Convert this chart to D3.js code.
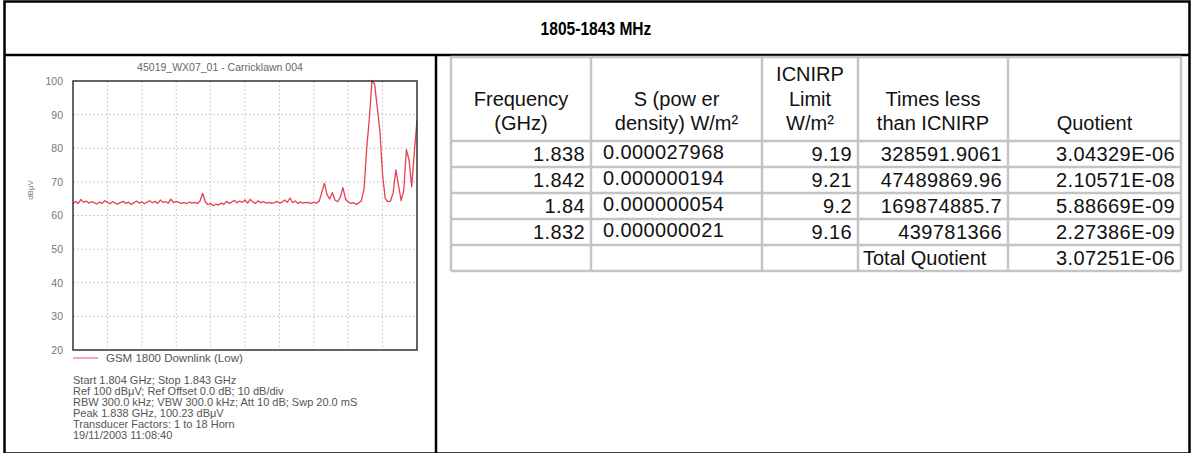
<!DOCTYPE html>
<html><head><meta charset="utf-8">
<script src="https://cdn.jsdelivr.net/npm/d3@7"></script>
<style>body{margin:0;background:#fff}svg{display:block}</style>
</head><body>
<svg id="c" width="1192" height="453"></svg>
<script>
// ---------- data ----------
const pageTitle = "1805-1843 MHz";
const chartTitle = "45019_WX07_01 - Carricklawn 004";
const seriesName = "GSM 1800 Downlink (Low)";
const yLabel = "dBμV";
const startGHz = 1.804, stopGHz = 1.843, stepGHz = 0.0003;
const yTicks = [20, 30, 40, 50, 60, 70, 80, 90, 100];
const xDivisions = [0,1,2,3,4,5,6,7,8,9,10];
// measured level (dBuV) per sweep point, 0.3 MHz apart
const levels = [
 63.5,64.2,63.6,64.8,63.9,64.3,63.7,64.1,63.8,63.4,
 64.0,63.6,64.4,63.9,63.5,64.1,63.7,63.4,63.9,64.2,
 63.6,64.0,63.3,63.8,64.3,63.7,64.1,63.5,64.0,64.4,
 63.8,64.2,63.6,64.6,63.9,64.1,63.7,64.9,63.8,64.2,
 63.9,63.6,63.8,63.5,64.0,63.7,63.9,63.6,64.3,66.6,
 64.1,63.2,63.6,62.9,63.4,63.1,63.7,63.3,64.2,63.6,
 64.0,64.5,63.8,64.3,63.9,64.6,63.7,64.8,64.0,63.6,
 64.4,63.8,64.1,63.7,63.9,63.6,63.8,64.2,63.7,64.0,
 64.6,63.9,65.2,63.8,64.3,63.6,64.0,63.7,63.9,63.8,
 63.6,63.9,63.7,64.2,66.8,69.6,66.2,64.9,66.8,64.6,
 64.1,65.4,68.3,64.9,64.0,63.6,63.8,63.3,63.7,64.4,
 68.0,80.0,89.0,100.2,99.0,92.0,85.0,72.0,65.0,64.1,
 64.3,66.8,73.6,69.0,64.4,67.5,79.6,76.5,68.6,79.0,
 88.2
];
const infoLines = [
 "Start 1.804 GHz; Stop 1.843 GHz",
 "Ref 100 dBμV; Ref Offset 0.0 dB; 10 dB/div",
 "RBW 300.0 kHz; VBW 300.0 kHz; Att 10 dB; Swp 20.0 mS",
 "Peak 1.838 GHz, 100.23 dBμV",
 "Transducer Factors: 1 to 18 Horn",
 "19/11/2003 11:08:40"
];
const headerLines = [
 ["", "Frequency", "(GHz)"],
 ["", "S (pow er", "density) W/m²"],
 ["ICNIRP", "Limit", "W/m²"],
 ["", "Times less", "than ICNIRP"],
 ["", "", "Quotient"]
];
const freqCol  = ["1.838", "1.842", "1.84", "1.832", ""];
const sCol     = ["0.000027968", "0.000000194", "0.000000054", "0.000000021", ""];
const limitCol = ["9.19", "9.21", "9.2", "9.16", ""];
const timesCol = ["328591.9061", "47489869.96", "169874885.7", "439781366", "Total Quotient"];
const quotCol  = ["3.04329E-06", "2.10571E-08", "5.88669E-09", "2.27386E-09", "3.07251E-06"];

// ---------- drawing ----------
const svg = d3.select("#c");
const W = 1192, H = 453;
svg.append("rect").attr("width", W).attr("height", H).attr("fill", "#fff");

// frame
const frame = svg.append("g").attr("stroke", "#000").attr("stroke-width", 2.5).attr("fill", "none");
frame.append("rect").attr("x", 4.5).attr("y", 1.5).attr("width", 1185).attr("height", 452);
frame.append("line").attr("x1", 4.5).attr("x2", 1189.5).attr("y1", 55).attr("y2", 55);
frame.append("line").attr("x1", 436).attr("x2", 436).attr("y1", 55).attr("y2", 453);

svg.append("text").attr("transform", "translate(596,35) scale(0.82,1)").attr("text-anchor", "middle")
  .attr("font-family", "Arial, 'Liberation Sans', sans-serif")
  .attr("font-weight", "bold").attr("font-size", 19).attr("fill", "#000").text(pageTitle);

// ---- chart panel ----
const plot = {x0: 73, x1: 417, y0: 81, y1: 350};
const x = d3.scaleLinear().domain([startGHz, stopGHz]).range([plot.x0, plot.x1]);
const y = d3.scaleLinear().domain([20, 100]).range([plot.y1, plot.y0]);
const freqs = levels.map((_, i) => startGHz + i * stepGHz);

const ch = svg.append("g").attr("font-family", "Arial, 'Liberation Sans', sans-serif");
ch.append("text").attr("x", 220).attr("y", 71).attr("text-anchor", "middle")
  .attr("font-size", 10.5).attr("fill", "#666").text(chartTitle);

// grid
const grid = ch.append("g").attr("stroke", "#cdcdcd").attr("stroke-width", 1).attr("stroke-dasharray", "2,2");
grid.selectAll("line.h").data(yTicks.slice(1, -1)).join("line")
  .attr("x1", plot.x0).attr("x2", plot.x1).attr("y1", d => y(d)).attr("y2", d => y(d));
const xd = d3.scaleLinear().domain([0, 10]).range([plot.x0, plot.x1]);
grid.selectAll("line.v").data(xDivisions.slice(1, -1)).join("line")
  .attr("y1", plot.y0).attr("y2", plot.y1).attr("x1", d => xd(d)).attr("x2", d => xd(d));

// y axis labels
const yAxis = d3.axisLeft(y).tickValues(yTicks).tickSize(0).tickPadding(10);
const ya = ch.append("g").attr("transform", `translate(${plot.x0},0)`).call(yAxis);
ya.select(".domain").remove();
ya.selectAll("text").attr("font-size", 10.5).attr("fill", "#777").attr("font-family", "Arial, 'Liberation Sans', sans-serif");

ch.append("text").attr("transform", "translate(33,190) rotate(-90)").attr("text-anchor", "middle")
  .attr("font-size", 8).attr("fill", "#777").text(yLabel);

// trace
ch.append("path").datum(levels)
  .attr("fill", "none").attr("stroke", "#e5414f").attr("stroke-width", 1.3).attr("stroke-linejoin", "round")
  .attr("d", d3.line().x((d, i) => x(freqs[i])).y(d => y(d)));

// plot border
ch.append("rect").attr("x", plot.x0).attr("y", plot.y0).attr("width", plot.x1 - plot.x0).attr("height", plot.y1 - plot.y0)
  .attr("fill", "none").attr("stroke", "#333").attr("stroke-width", 1.5);

// legend
ch.append("line").attr("x1", 73).attr("x2", 98).attr("y1", 358).attr("y2", 358)
  .attr("stroke", "#f08a94").attr("stroke-width", 1.5);
ch.append("text").attr("x", 106).attr("y", 362).attr("font-size", 11.5).attr("fill", "#555").text(seriesName);

ch.selectAll("text.info").data(infoLines).join("text").attr("class", "info")
  .attr("x", 73).attr("y", (d, i) => 384 + i * 11).attr("font-size", 11).attr("fill", "#555").text(d => d);

// ---- table ----
const colEdges = [451, 591, 762, 858, 1008, 1181];
const rowEdges = [57, 141, 167, 193, 219, 245, 271];
const tb = svg.append("g").attr("font-family", "Arial, 'Liberation Sans', sans-serif").attr("font-size", 20).attr("fill", "#111");
const tl = tb.append("g").attr("stroke", "#c4c4c4").attr("stroke-width", 2.5);
tl.selectAll("line.c").data(colEdges).join("line")
  .attr("x1", d => d).attr("x2", d => d).attr("y1", rowEdges[0]).attr("y2", rowEdges[rowEdges.length - 1]);
tl.selectAll("line.r").data(rowEdges).join("line")
  .attr("y1", d => d).attr("y2", d => d).attr("x1", colEdges[0]).attr("x2", colEdges[colEdges.length - 1]);

// header
const headerY = [81, 106, 130];
headerLines.forEach((lines, c) => {
  const cx = (colEdges[c] + colEdges[c + 1]) / 2;
  lines.forEach((t, k) => {
    if (!t) return;
    tb.append("text").attr("x", cx).attr("y", headerY[k]).attr("text-anchor", "middle").text(t);
  });
});
// body
const cols = [freqCol, sCol, limitCol, timesCol, quotCol];
cols.forEach((vals, c) => {
  vals.forEach((t, r) => {
    if (!t) return;
    const top = rowEdges[r + 1], bot = rowEdges[r + 2];
    let xx, anchor = "end", yy = bot - 6;
    if (c === 1) { xx = colEdges[c] + 12; anchor = "start"; yy = top + 18; }
    else if (c === 3 && r === 4) { xx = colEdges[c] + 5; anchor = "start"; }
    else { xx = colEdges[c + 1] - 6; }
    tb.append("text").attr("x", xx).attr("y", yy).attr("text-anchor", anchor)
      .attr("letter-spacing", (c === 3 && r === 4) ? 0 : 0.4).text(t);
  });
});
</script>
</body></html>
